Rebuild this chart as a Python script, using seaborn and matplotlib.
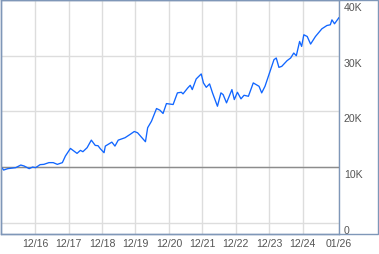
import matplotlib
matplotlib.use("Agg")
import matplotlib.pyplot as plt
import matplotlib.transforms as mtrans
from matplotlib.patches import Rectangle
import numpy as np
import pandas as pd
import seaborn as sns

# ---- data ----
dates = [
    "2015-12-01", "2015-12-24", "2016-02-07", "2016-05-04", "2016-06-28", "2016-08-04",
    "2016-09-28", "2016-11-04", "2016-12-07", "2017-01-25", "2017-03-07", "2017-05-01",
    "2017-06-17", "2017-08-01", "2017-09-25", "2017-10-28", "2017-12-22", "2018-03-04",
    "2018-04-10", "2018-05-07", "2018-06-22", "2018-08-07", "2018-09-19", "2018-10-19",
    "2018-11-13", "2018-12-24", "2019-01-07", "2019-03-19", "2019-04-22", "2019-05-28",
    "2019-08-10", "2019-10-04", "2019-11-19", "2019-12-25", "2020-03-20", "2020-04-13",
    "2020-05-25", "2020-07-19", "2020-08-25", "2020-09-28", "2020-11-04", "2021-01-16",
    "2021-03-04", "2021-04-16", "2021-05-04", "2021-06-25", "2021-07-22", "2021-08-13",
    "2021-09-25", "2021-11-19", "2021-12-13", "2022-01-13", "2022-02-18", "2022-03-22",
    "2022-05-15", "2022-06-22", "2022-07-16", "2022-08-22", "2022-10-20", "2022-11-15",
    "2022-12-19", "2023-01-27", "2023-03-01", "2023-04-18", "2023-06-10", "2023-08-12",
    "2023-09-10", "2023-10-16", "2023-11-28", "2024-01-22", "2024-02-16", "2024-03-16",
    "2024-04-16", "2024-06-13", "2024-07-22", "2024-08-25", "2024-09-22", "2024-10-28",
    "2024-11-19", "2024-12-13", "2025-01-19", "2025-02-25", "2025-04-19", "2025-06-28",
    "2025-08-22", "2025-09-28", "2025-10-16", "2025-11-13", "2026-01-01",
]
values = [
    9950, 9480, 9730, 9910, 10380, 10200,
    9730, 10020, 9910, 10450, 10500, 10810,
    10810, 10500, 10810, 11990, 13360, 12470,
    13010, 12770, 13490, 14850, 13900, 13850,
    13310, 12590, 13780, 14490, 13780, 14850,
    15280, 15870, 16400, 16170, 14560, 17070,
    18250, 20520, 20220, 19630, 21410, 21240,
    23330, 23440, 23150, 24220, 24690, 23920,
    25830, 26730, 25120, 24330, 24940, 23330,
    20930, 23330, 23020, 21540, 23920, 22130,
    23440, 22260, 22900, 22720, 25120, 24510,
    23330, 24510, 26600, 29290, 29590, 27910,
    28090, 29110, 29590, 30480, 30000, 32560,
    31670, 33760, 33450, 32090, 33450, 34830,
    35420, 35550, 36440, 35730, 36850,
]
baseline = 10000
y_ticks = [0, 10000, 20000, 30000, 40000]
y_tick_labels = ["0", "10K", "20K", "30K", "40K"]
x_tick_dates = ["2016-12-01", "2017-12-01", "2018-12-01", "2019-12-01", "2020-12-01",
                "2021-12-01", "2022-12-01", "2023-12-01", "2024-12-01", "2026-01-01"]
x_tick_labels = ["12/16", "12/17", "12/18", "12/19", "12/20",
                 "12/21", "12/22", "12/23", "12/24", "01/26"]

df = pd.DataFrame({"date": pd.to_datetime(dates), "value": values})

sns.set_style("white")
plt.rcParams["font.family"] = ["Liberation Sans", "DejaVu Sans"]

fig = plt.figure(figsize=(3.79, 2.55), dpi=100)
W, H = 379, 255
ax = fig.add_axes([1 / W, (H - 235) / H, 338 / W, 234 / H])

grid_c = "#dddddd"
spine_c = "#7f97b8"
text_c = "#555555"

sns.lineplot(data=df, x="date", y="value", ax=ax, color="#1166ff",
             linewidth=0.95, zorder=5, legend=False)

ax.axhline(baseline, color="#8c8c8c", linewidth=1.0, zorder=3)

ax.set_xlim(pd.Timestamp("2015-11-25"), pd.Timestamp("2026-01-01"))
ax.set_ylim(-2000, 40000)

ax.set_xticks(pd.to_datetime(x_tick_dates))
ax.set_xticklabels(x_tick_labels)
ax.set_yticks(y_ticks)
ax.set_yticklabels(y_tick_labels)

ax.grid(True, color=grid_c, linewidth=1.0, zorder=0)
ax.set_axisbelow(True)

ax.yaxis.tick_right()
ax.tick_params(axis="both", length=0, labelsize=7.6, labelcolor=text_c)
ax.tick_params(axis="x", pad=3.2)
ax.tick_params(axis="y", pad=3.6)

for s in ax.spines.values():
    s.set_visible(True)
    s.set_color(spine_c)
    s.set_linewidth(1.0)

ax.set_xlabel("")
ax.set_ylabel("")

off = mtrans.ScaledTranslation(0, -6 / 100, fig.dpi_scale_trans)
for lab in ax.get_yticklabels():
    lab.set_transform(lab.get_transform() + off)
    lab.set_horizontalalignment("left")

# outer frame enclosing plot and the right label column
fig.patches.append(Rectangle((1 / W, (H - 235) / H), 377 / W, 234.5 / H,
                             transform=fig.transFigure, fill=False,
                             edgecolor=spine_c, linewidth=1.0, zorder=10))

fig.savefig("out.png", dpi=100)
